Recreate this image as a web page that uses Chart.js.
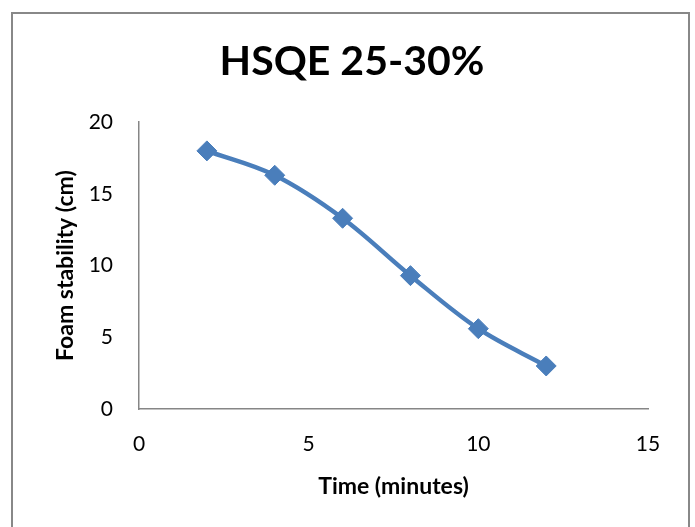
<!DOCTYPE html>
<html>
<head>
<meta charset="utf-8">
<title>HSQE 25-30%</title>
<script src="https://cdn.jsdelivr.net/npm/chart.js@4.4.1/dist/chart.umd.min.js"></script>
<style>
    body { margin: 0; background: #fff; }
    #frame {
        position: absolute;
        left: 11px; top: 12px;
        width: 679px; height: 540px;
        box-sizing: border-box;
        border: 2px solid #888;
    }
    #chart { position: absolute; left: 0; top: 0; }
</style>
</head>
<body>
<div id="frame"></div>
<canvas id="chart" width="695" height="527"></canvas>
<script>
// Chart data
const timeMinutes = [2, 4, 6, 8, 10, 12];
const foamStability = [18, 16.3, 13.3, 9.3, 5.6, 3];
const xTicks = [0, 5, 10, 15];
const yTicks = [0, 5, 10, 15, 20];

const FONT = 'Lato, "Open Sans", sans-serif';
const BLUE = '#4A7EBB';

const ctx = document.getElementById('chart').getContext('2d');

new Chart(ctx, {
    type: 'line',
    data: {
        datasets: [{
            label: 'HSQE 25-30%',
            data: timeMinutes.map((t, i) => ({ x: t, y: foamStability[i] })),
            borderColor: BLUE,
            backgroundColor: BLUE,
            borderWidth: 4.5,
            tension: 0.35,
            pointStyle: 'rectRot',
            pointRadius: 10,
            pointBorderWidth: 1,
            pointBackgroundColor: BLUE,
            pointBorderColor: BLUE
        }]
    },
    options: {
        responsive: false,
        animation: false,
        devicePixelRatio: 1,
        layout: {
            // left padding shifts the title centre to match the original
            padding: { left: 9, right: 0, top: 0, bottom: 0 }
        },
        plugins: {
            legend: { display: false },
            tooltip: { enabled: false },
            title: {
                display: true,
                text: 'HSQE 25-30%',
                color: '#000',
                font: { family: FONT, size: 41, weight: 'bold', lineHeight: 1.2 },
                padding: { top: 37, bottom: 36 }
            }
        },
        scales: {
            x: {
                type: 'linear',
                min: 0,
                max: 15,
                afterBuildTicks: scale => { scale.ticks = xTicks.map(v => ({ value: v })); },
                afterFit: scale => { scale.height = 118; },
                grid: { display: false, drawTicks: false },
                border: { display: true, color: '#868686', width: 1.5 },
                ticks: {
                    color: '#000',
                    padding: 23,
                    font: { family: FONT, size: 21, lineHeight: 1.2 }
                },
                title: {
                    display: true,
                    text: 'Time (minutes)',
                    color: '#000',
                    font: { family: FONT, size: 23, weight: 'bold', lineHeight: 1.2 },
                    padding: { top: 0, bottom: 27 }
                }
            },
            y: {
                type: 'linear',
                min: 0,
                max: 20,
                afterBuildTicks: scale => { scale.ticks = yTicks.map(v => ({ value: v })); },
                afterFit: scale => { scale.width = 130; },
                grid: { display: false, drawTicks: false },
                border: { display: true, color: '#868686', width: 1.5 },
                ticks: {
                    color: '#000',
                    padding: 26,
                    font: { family: FONT, size: 21, lineHeight: 1.2 }
                },
                title: {
                    display: true,
                    text: 'Foam stability (cm)',
                    color: '#000',
                    font: { family: FONT, size: 23, weight: 'bold', lineHeight: 1.2 },
                    padding: { top: 43, bottom: 0 }
                }
            },
            // empty right axis that only reserves the space right of the plot
            spacer: {
                type: 'linear',
                position: 'right',
                display: true,
                afterFit: scale => { scale.width = 47; },
                grid: { display: false, drawTicks: false },
                border: { display: false },
                ticks: { display: false }
            }
        }
    }
});
</script>
</body>
</html>
